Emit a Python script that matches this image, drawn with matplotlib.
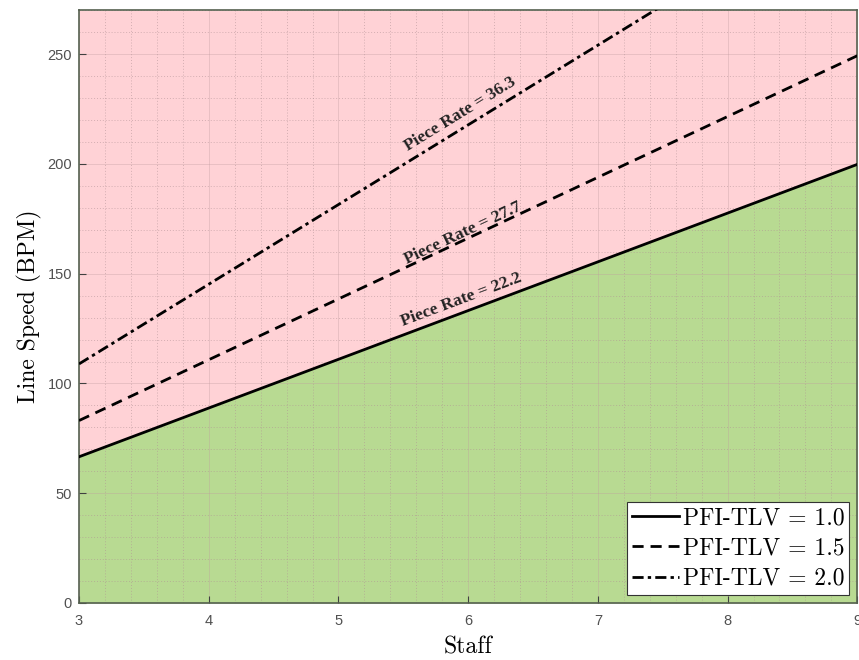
import numpy as np
import matplotlib
matplotlib.use("Agg")
import matplotlib.pyplot as plt
from matplotlib.ticker import MultipleLocator

# staff range (x) and line speed at the end points for each PFI-TLV curve
staff = [3, 9]
speed_10 = [66.6, 199.8]
speed_15 = [83.1, 249.3]
speed_20 = [108.9, 326.7]
labels = ["PFI-TLV = 1.0", "PFI-TLV = 1.5", "PFI-TLV = 2.0"]
rates = ["Piece Rate = 22.2", "Piece Rate = 27.7", "Piece Rate = 36.3"]
y_top = 270

fig = plt.figure(figsize=(8.59, 6.6), dpi=100)
ax = fig.add_axes([0.092, 0.0864, 0.906, 0.898])

ax.fill_between(staff, speed_10, [y_top, y_top], color="#ffd2d6", lw=0, zorder=0)
ax.fill_between(staff, [0, 0], speed_10, color="#b8da92", lw=0, zorder=0)

ax.plot(staff, speed_10, color="black", lw=2, ls="-", label=labels[0], zorder=3)
ax.plot(staff, speed_15, color="black", lw=2, ls=(0, (4, 2.5)), label=labels[1], zorder=3)
ax.plot(staff, speed_20, color="black", lw=2, ls=(0, (4, 1.5, 1.2, 1.5)), label=labels[2], zorder=3)

ax.set_xlim(3, 9)
ax.set_ylim(0, y_top)
ax.xaxis.set_major_locator(MultipleLocator(1))
ax.xaxis.set_minor_locator(MultipleLocator(0.2))
ax.yaxis.set_major_locator(MultipleLocator(50))
ax.yaxis.set_minor_locator(MultipleLocator(10))
ax.grid(which="major", color="#c09a9e", lw=0.6, alpha=0.4, zorder=1)
ax.grid(which="minor", color="#b09094", lw=0.7, ls=(0, (1, 2)), alpha=0.55, zorder=1)
ax.tick_params(which="major", direction="in", length=5, color="#404040",
               labelcolor="#505050", labelsize=10.5)
ax.tick_params(axis="x", pad=8)
ax.tick_params(axis="y", pad=5)
ax.tick_params(which="minor", length=0)
for t in ax.get_xticklabels() + ax.get_yticklabels():
    t.set_family("Liberation Sans")
for s in ax.spines.values():
    s.set_color("#55604f")
    s.set_linewidth(1.2)

ax.set_xlabel("Staff", family="cmr10", fontsize=17, labelpad=6)
ax.set_ylabel("Line Speed (BPM)", family="cmr10", fontsize=17, labelpad=4)

# rotated labels along each line
pos_x = [5.95, 5.96, 5.94]
offs = [6, 3.5, 7]
angles = [20.6, 25.2, 31.6]
for y, txt, px, off, ang in zip([speed_10, speed_15, speed_20], rates, pos_x, offs, angles):
    py = np.interp(px, staff, y) + off
    ax.text(px, py, txt, rotation=ang, rotation_mode="anchor", ha="center", va="center",
            family="Liberation Serif", fontweight="bold", fontsize=12.5, color="#222222", zorder=4)

leg = ax.legend(loc="lower right", prop={"family": "cmr10", "size": 17},
                handlelength=2.0, handletextpad=0.15, borderpad=0.2, labelspacing=0.35,
                fancybox=False, framealpha=1, edgecolor="#333333", borderaxespad=0.35)
leg.get_frame().set_linewidth(0.8)

fig.savefig("out.png", dpi=100)
